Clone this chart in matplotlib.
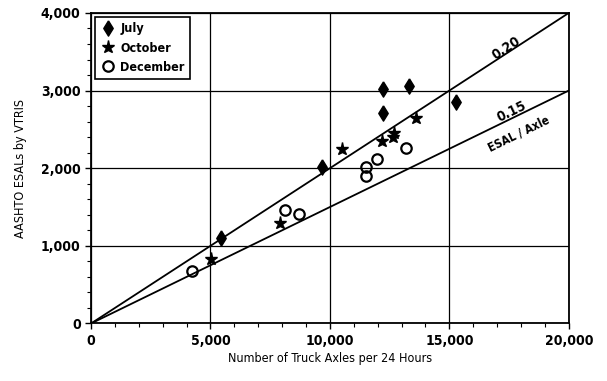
import matplotlib
matplotlib.use("Agg")
import matplotlib.pyplot as plt
from matplotlib.ticker import MultipleLocator, FuncFormatter

plt.rcParams["font.family"] = ["DejaVu Sans"]
plt.rcParams["font.stretch"] = "condensed"
plt.rcParams["font.weight"] = "bold"

# truck axles per 24 h vs AASHTO ESALs
july_x = [5420, 9650, 12210, 12210, 13320, 15300]
july_y = [1105, 2010, 3015, 2710, 3065, 2850]

oct_x = [5020, 7900, 10520, 12180, 12650, 12700, 13600]
oct_y = [830, 1290, 2250, 2350, 2400, 2460, 2650]

dec_x = [4230, 8120, 8710, 11510, 11510, 11980, 13180]
dec_y = [680, 1460, 1405, 2010, 1905, 2120, 2255]

rates = [0.20, 0.15]
x_max = 20000
y_max = 4000

# slightly fat diamond like the scan
diamond = [(0, 1), (0.62, 0), (0, -1), (-0.62, 0), (0, 1)]

fig = plt.figure(figsize=(6.07, 3.81), dpi=100)
ax = fig.add_axes([0.150, 0.151, 0.787, 0.815])

# ESAL/axle reference lines
for r in rates:
    ax.plot([0, x_max], [0, r * x_max], color="black", lw=1.3, zorder=2)

ax.plot(july_x, july_y, marker=diamond, color="black", ms=11, ls="none",
        label="July", zorder=3)
ax.plot(oct_x, oct_y, "*", color="black", ms=9.5, ls="none", label="October", zorder=3)
ax.plot(dec_x, dec_y, "o", mfc="none", mec="black", mew=1.6, ms=7.5, ls="none",
        label="December", zorder=3)

ax.text(17400, 3550, "0.20", rotation=33, ha="center", va="center", fontsize=10)
ax.text(17600, 2730, "0.15", rotation=26, ha="center", va="center", fontsize=10)
ax.text(17900, 2440, "ESAL / Axle", rotation=26, ha="center", va="center", fontsize=8.5)

ax.set_xlim(0, x_max)
ax.set_ylim(0, y_max)
ax.xaxis.set_major_locator(MultipleLocator(5000))
ax.xaxis.set_minor_locator(MultipleLocator(1000))
ax.yaxis.set_major_locator(MultipleLocator(1000))
ax.yaxis.set_minor_locator(MultipleLocator(200))
fmt = FuncFormatter(lambda v, p: f"{int(v):,}")
ax.xaxis.set_major_formatter(fmt)
ax.yaxis.set_major_formatter(fmt)
ax.tick_params(which="major", length=4, width=1, labelsize=10, direction="out")
ax.tick_params(which="minor", length=3, width=0.8, direction="out")
ax.grid(True, which="major", color="black", lw=0.9)
for s in ax.spines.values():
    s.set_linewidth(1.3)

ax.set_xlabel("Number of Truck Axles per 24 Hours", fontsize=9, labelpad=3)
ax.set_ylabel("AASHTO ESALs by VTRIS", fontsize=9, labelpad=10)

leg = ax.legend(loc="upper left", frameon=True, fancybox=False, fontsize=9,
                borderaxespad=0.35, handletextpad=0.4, labelspacing=0.5,
                handlelength=1.2, borderpad=0.4)
leg.get_frame().set_edgecolor("black")
leg.get_frame().set_linewidth(1.2)
leg.get_frame().set_alpha(1)

fig.savefig("out.png", dpi=100)
